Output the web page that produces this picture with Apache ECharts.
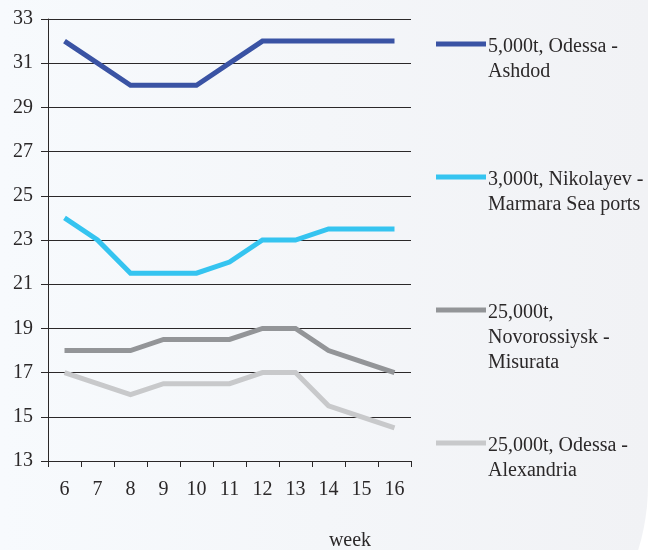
<!DOCTYPE html>
<html>
<head>
<meta charset="utf-8">
<style>
  html, body { margin: 0; padding: 0; background: #ffffff; }
  #chart { width: 648px; height: 550px; }
</style>
<script src="https://cdn.jsdelivr.net/npm/echarts@6/dist/echarts.min.js"></script>
</head>
<body>
<div id="chart"></div>
<script>
// Weekly freight rates by route
const weeks = ['6', '7', '8', '9', '10', '11', '12', '13', '14', '15', '16'];
const odessaAshdod = [32, 31, 30, 30, 30, 31, 32, 32, 32, 32, 32];
const nikolayevMarmara = [24, 23, 21.5, 21.5, 21.5, 22, 23, 23, 23.5, 23.5, 23.5];
const novorossiyskMisurata = [18, 18, 18, 18.5, 18.5, 18.5, 19, 19, 18, 17.5, 17];
const odessaAlexandria = [17, 16.5, 16, 16.5, 16.5, 16.5, 17, 17, 15.5, 15, 14.5];

const seriesNames = [
  '5,000t, Odessa -\nAshdod',
  '3,000t, Nikolayev -\nMarmara Sea ports',
  '25,000t,\nNovorossiysk -\nMisurata',
  '25,000t, Odessa -\nAlexandria'
];
const seriesData = [odessaAshdod, nikolayevMarmara, novorossiyskMisurata, odessaAlexandria];
const colors = ['#3a53a4', '#35c4f0', '#939598', '#c8c9cb'];

const FONT = 'Liberation Serif';
const INK = '#2b2829';

const chart = echarts.init(document.getElementById('chart'), null, { renderer: 'canvas' });

// Legend entries: a short line followed by the route text
const legendTops = [44, 177, 310, 443];
const legendGraphics = [];
seriesNames.forEach((name, i) => {
  legendGraphics.push({
    type: 'line',
    shape: { x1: 436, y1: legendTops[i], x2: 486, y2: legendTops[i] },
    style: { stroke: colors[i], lineWidth: 5 },
    z: 10
  });
  legendGraphics.push({
    type: 'text',
    x: 488,
    y: legendTops[i] - 10,
    style: {
      text: name,
      fontFamily: FONT,
      fontSize: 20,
      fill: INK,
      lineHeight: 25,
      verticalAlign: 'top'
    },
    z: 10
  });
});

chart.setOption({
  animation: false,
  graphic: [
    {
      type: 'rect',
      shape: { x: 0, y: 0, width: 648, height: 705, r: [0, 0, 220, 0] },
      style: {
        fill: new echarts.graphic.LinearGradient(0, 0, 1, 0, [
          { offset: 0, color: '#f7fafd' },
          { offset: 1, color: '#f1f2f5' }
        ])
      },
      z: -10,
      silent: true
    },
    {
      type: 'text',
      x: 350,
      y: 541,
      style: {
        text: 'week',
        fontFamily: FONT,
        fontSize: 20,
        fill: INK,
        align: 'center',
        verticalAlign: 'middle'
      }
    }
  ].concat(legendGraphics),
  grid: { left: 48, right: 237, top: 19, bottom: 89, containLabel: false },
  xAxis: {
    type: 'category',
    data: weeks,
    boundaryGap: true,
    axisLine: { show: true, lineStyle: { color: INK, width: 1 } },
    axisTick: { show: true, length: 6, inside: false, lineStyle: { color: INK } },
    axisLabel: {
      margin: 19,
      color: INK,
      fontFamily: FONT,
      fontSize: 20
    },
    splitLine: { show: false }
  },
  yAxis: {
    type: 'value',
    min: 13,
    max: 33,
    interval: 2,
    axisLine: { show: true, lineStyle: { color: INK, width: 1 } },
    axisTick: { show: true, length: 7, lineStyle: { color: INK } },
    axisLabel: {
      margin: 15,
      color: INK,
      fontFamily: FONT,
      fontSize: 20
    },
    splitLine: { show: true, lineStyle: { color: INK, width: 1 } }
  },
  series: seriesNames.map((name, i) => ({
    name: name,
    type: 'line',
    data: seriesData[i],
    symbol: 'none',
    lineStyle: { color: colors[i], width: 5, join: 'miter' },
    itemStyle: { color: colors[i] },
    z: 5 - i
  }))
});
</script>
</body>
</html>
